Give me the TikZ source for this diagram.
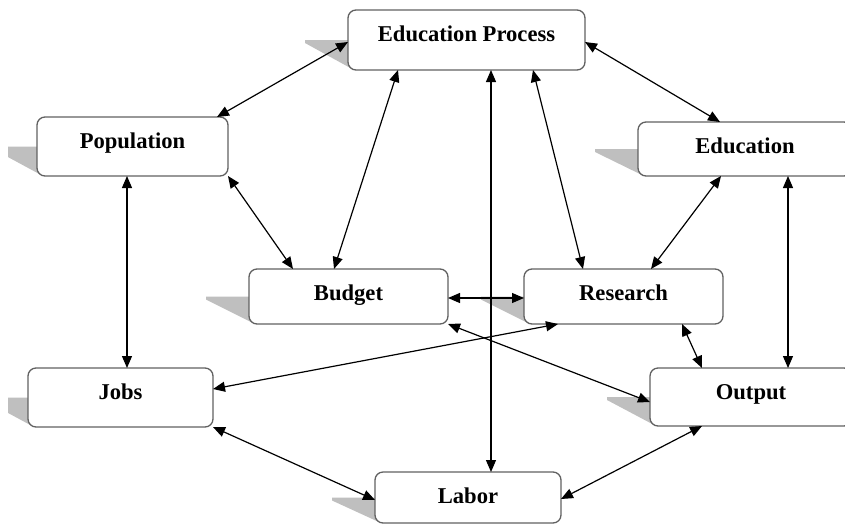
\documentclass[tikz,border=0pt]{standalone}
\usepackage{fontspec}
\setmainfont{Liberation Serif}
\usetikzlibrary{arrows.meta,calc}
\newcommand\mkbox[6]{%
  \begin{scope}
    \clip (8,0) rectangle (845,528);
    \fill[shadowfill] ({#2-43},{(#3+#5)/2}) -- ({#2+6},{(#3+#5)/2}) -- ({#2+6},#5) -- ({#2-43},{(#3+#5)/2+3}) -- cycle;
  \end{scope}
  \node[boxnode, minimum width={#4-#2}, minimum height={#5-#3}] (#1) at ({(#2+#4)/2},{(#3+#5)/2}) {};
  \node[lbl] (#1-t) at ({(#2+#4)/2},{#3+31}) {#6};
}
\begin{document}
\begin{tikzpicture}[x=1pt,y=-1pt,
  boxnode/.style={draw=black!62, line width=1.3pt, fill=white, rounded corners=8pt, inner sep=0pt, outer sep=0pt},
  lbl/.style={font=\fontsize{22.6}{26}\selectfont\bfseries, inner sep=0pt, anchor=base},
  shadowfill/.style={fill=black!25},
  link/.style={line width=1.2pt, {Triangle[length=12pt,width=10pt]}-{Triangle[length=12pt,width=10pt]}}]
\useasboundingbox (0,0) rectangle (845,528);
\clip (0,0) rectangle (845,528);
\mkbox{ep}{348}{10}{585}{70}{Education Process}
\mkbox{pop}{37}{117}{228}{176}{Population}
\mkbox{edu}{638}{122}{852}{176}{Education}
\mkbox{bud}{249}{269}{448}{324}{Budget}
\mkbox{res}{524}{269}{723}{324}{Research}
\mkbox{jobs}{28}{368}{213}{427}{Jobs}
\mkbox{out}{650}{368}{852}{426}{Output}
\mkbox{lab}{375}{472}{561}{523}{Labor}
% connectors
\draw[link] ($(ep.west)+(0,2)$) -- ($(pop.north east)+(-11,0)$);
\draw[link] ($(ep.east)+(0,2)$) -- ($(edu.north west)+(82,0)$);
\draw[link] ($(ep.south west)+(50,0)$) -- ($(bud.north west)+(85,0)$);
\draw[link] ($(ep.south west)+(143,0)$) -- ($(lab.north west)+(116,0)$);
\draw[link] ($(ep.south west)+(185,0)$) -- ($(res.north west)+(59,0)$);
\draw[link] (pop.south east) -- ($(bud.north west)+(44,0)$);
\draw[link] ($(pop.south west)+(90,0)$) -- ($(jobs.north west)+(99,0)$);
\draw[link] ($(edu.south west)+(83,0)$) -- ($(res.north west)+(127,0)$);
\draw[link] ($(edu.south west)+(150,0)$) -- ($(out.north west)+(138,0)$);
\draw[link] ($(bud.east)+(0,1.5)$) -- ($(res.west)+(0,1.5)$);
\draw[link] ($(res.south west)+(34,0)$) -- ($(jobs.east)+(0,-8.5)$);
\draw[link] (bud.south east) -- ($(out.west)+(0,5)$);
\draw[link] ($(res.south west)+(158,0)$) -- ($(out.north west)+(52,0)$);
\draw[link] (jobs.south east) -- ($(lab.west)+(0,2.5)$);
\draw[link] ($(out.south west)+(52,0)$) -- ($(lab.east)+(0,1.5)$);
\end{tikzpicture}
\end{document}
